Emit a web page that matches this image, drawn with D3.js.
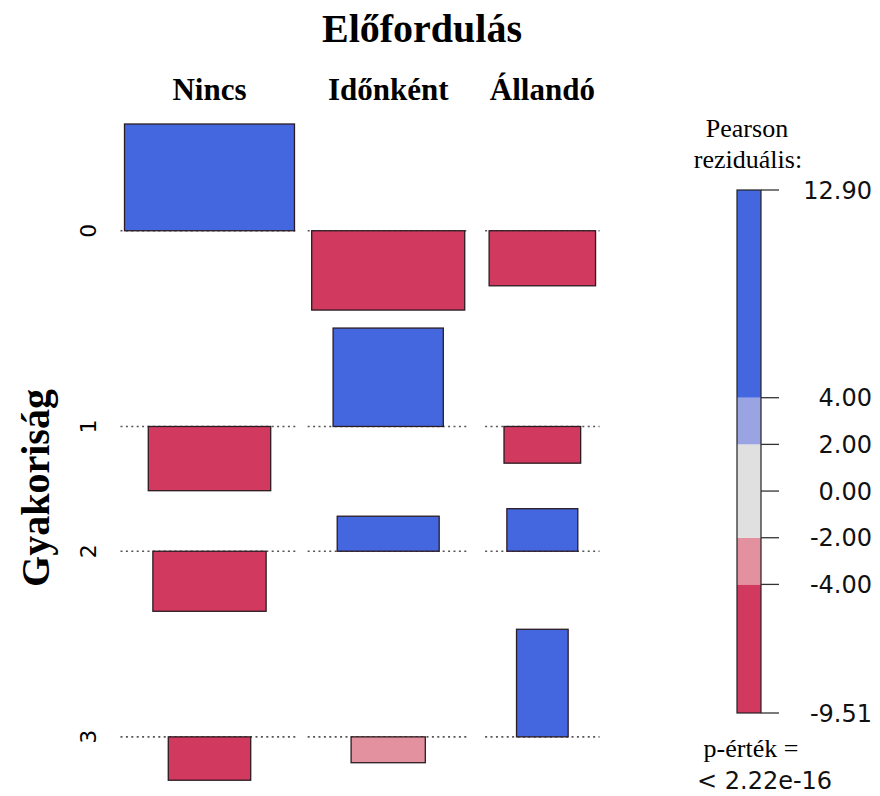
<!DOCTYPE html>
<html>
<head>
<meta charset="utf-8">
<script src="https://cdn.jsdelivr.net/npm/d3@7"></script>
<style>
  html, body { margin: 0; padding: 0; background: #fff; }
  svg { display: block; }
</style>
</head>
<body>
<svg id="chart" width="880" height="796"></svg>
<script>
// association plot: Gyakoriság x Előfordulás
const rowLevels = ['0', '1', '2', '3'];
const colLevels = ['Nincs', 'Időnként', 'Állandó'];
const rowShare = [0.455, 0.236, 0.202, 0.107];
const colShare = [0.454, 0.368, 0.178];
const residuals = [
  [12.8, -9.51, -6.6],
  [-7.7, 11.8, -4.4],
  [-7.2, 4.2, 5.1],
  [-5.2, -3.1, 12.9]
];
const legendTicks = [12.90, 4.00, 2.00, 0.00, -2.00, -4.00, -9.51];
const shadeBreaks = [-9.51, -4, -2, 2, 4, 12.90];
const shadeColors = ['#d2395f', '#e3909f', '#e0e0e0', '#9ba4e3', '#4467df'];
const pValueText = '< 2.22e-16';

const svg = d3.select('#chart');
const serif = '"Liberation Serif", "Times New Roman", serif';
const sans = '"DejaVu Sans", Verdana, sans-serif';

const shade = d3.scaleThreshold()
  .domain(shadeBreaks.slice(1, -1))
  .range(shadeColors);

// bar height ~ residual, bar width ~ sqrt(expected)
const hScale = d3.scaleLinear().domain([0, 1]).range([0, 8.34]);
const wScale = d3.scaleSqrt().domain([0, 1]).range([0, 374]);

const rowGap = 18;
const colGaps = [17.2, 24.4];
const plotTop = 124, plotLeft = 124.5;

// row layout
const rows = [];
let rowTop = plotTop;
rowLevels.forEach((lab, i) => {
  const up = Math.max(0, d3.max(residuals[i]));
  const down = Math.max(0, -d3.min(residuals[i]));
  const base = rowTop + hScale(up);
  rows.push({ lab, base });
  rowTop = base + hScale(down) + rowGap;
});

// column layout
const cols = [];
let colLeft = plotLeft;
colLevels.forEach((lab, j) => {
  const maxW = d3.max(rowShare, (r) => wScale(r * colShare[j]));
  cols.push({ lab, center: colLeft + maxW / 2, half: maxW / 2 });
  colLeft += maxW + (colGaps[j] || 0);
});

const g = svg.append('g');

// baselines
rows.forEach((r) => {
  cols.forEach((c) => {
    g.append('line')
      .attr('x1', c.center - c.half - 4)
      .attr('x2', c.center + c.half + 4)
      .attr('y1', r.base)
      .attr('y2', r.base)
      .attr('stroke', '#555')
      .attr('stroke-width', 1.6)
      .attr('stroke-dasharray', '2 3.4');
  });
});

// bars
rows.forEach((r, i) => {
  cols.forEach((c, j) => {
    const res = residuals[i][j];
    const w = wScale(rowShare[i] * colShare[j]);
    const h = hScale(Math.abs(res));
    g.append('rect')
      .attr('x', c.center - w / 2)
      .attr('y', res > 0 ? r.base - h : r.base)
      .attr('width', w)
      .attr('height', h)
      .attr('fill', shade(res))
      .attr('stroke', '#2b1b22')
      .attr('stroke-width', 1.3);
  });
});

// titles
svg.append('text')
  .attr('x', 422).attr('y', 42)
  .attr('text-anchor', 'middle')
  .attr('font-family', serif).attr('font-weight', 'bold').attr('font-size', 40)
  .text('Előfordulás');

cols.forEach((c) => {
  svg.append('text')
    .attr('x', c.center).attr('y', 100)
    .attr('text-anchor', 'middle')
    .attr('font-family', serif).attr('font-weight', 'bold').attr('font-size', 31)
    .text(c.lab);
});

svg.append('text')
  .attr('transform', 'translate(49,488) rotate(-90)')
  .attr('text-anchor', 'middle')
  .attr('font-family', serif).attr('font-weight', 'bold').attr('font-size', 40)
  .text('Gyakoriság');

rows.forEach((r) => {
  svg.append('text')
    .attr('transform', `translate(96,${r.base}) rotate(-90)`)
    .attr('text-anchor', 'middle')
    .attr('font-family', sans).attr('font-size', 22)
    .text(r.lab);
});

// legend
const legY = d3.scaleLinear().domain([-9.51, 12.90]).range([713, 190]);
const legX = 737, legW = 24;
const leg = svg.append('g');

d3.pairs(shadeBreaks).forEach(([a, b], k) => {
  leg.append('rect')
    .attr('x', legX).attr('y', legY(b))
    .attr('width', legW).attr('height', legY(a) - legY(b))
    .attr('fill', shadeColors[k]);
});
leg.append('rect')
  .attr('x', legX).attr('y', legY(shadeBreaks[5]))
  .attr('width', legW).attr('height', legY(shadeBreaks[0]) - legY(shadeBreaks[5]))
  .attr('fill', 'none').attr('stroke', '#222').attr('stroke-width', 1.2);

legendTicks.forEach((t) => {
  leg.append('line')
    .attr('x1', legX + legW).attr('x2', legX + legW + 18)
    .attr('y1', legY(t)).attr('y2', legY(t))
    .attr('stroke', '#333').attr('stroke-width', 1.3);
  leg.append('text')
    .attr('x', 872).attr('y', legY(t))
    .attr('dy', '0.36em')
    .attr('text-anchor', 'end')
    .attr('font-family', sans).attr('font-size', 24)
    .attr('fill', '#111')
    .text(t.toFixed(2));
});

leg.append('text')
  .attr('x', 747).attr('y', 137)
  .attr('text-anchor', 'middle')
  .attr('font-family', serif).attr('font-size', 26)
  .text('Pearson');
leg.append('text')
  .attr('x', 748).attr('y', 168)
  .attr('text-anchor', 'middle')
  .attr('font-family', serif).attr('font-size', 26)
  .text('reziduális:');
leg.append('text')
  .attr('x', 751).attr('y', 757)
  .attr('text-anchor', 'middle')
  .attr('font-family', serif).attr('font-size', 26)
  .text('p-érték =');
leg.append('text')
  .attr('x', 697).attr('y', 789)
  .attr('font-family', sans).attr('font-size', 24)
  .attr('fill', '#111')
  .text(pValueText);
</script>
</body>
</html>
